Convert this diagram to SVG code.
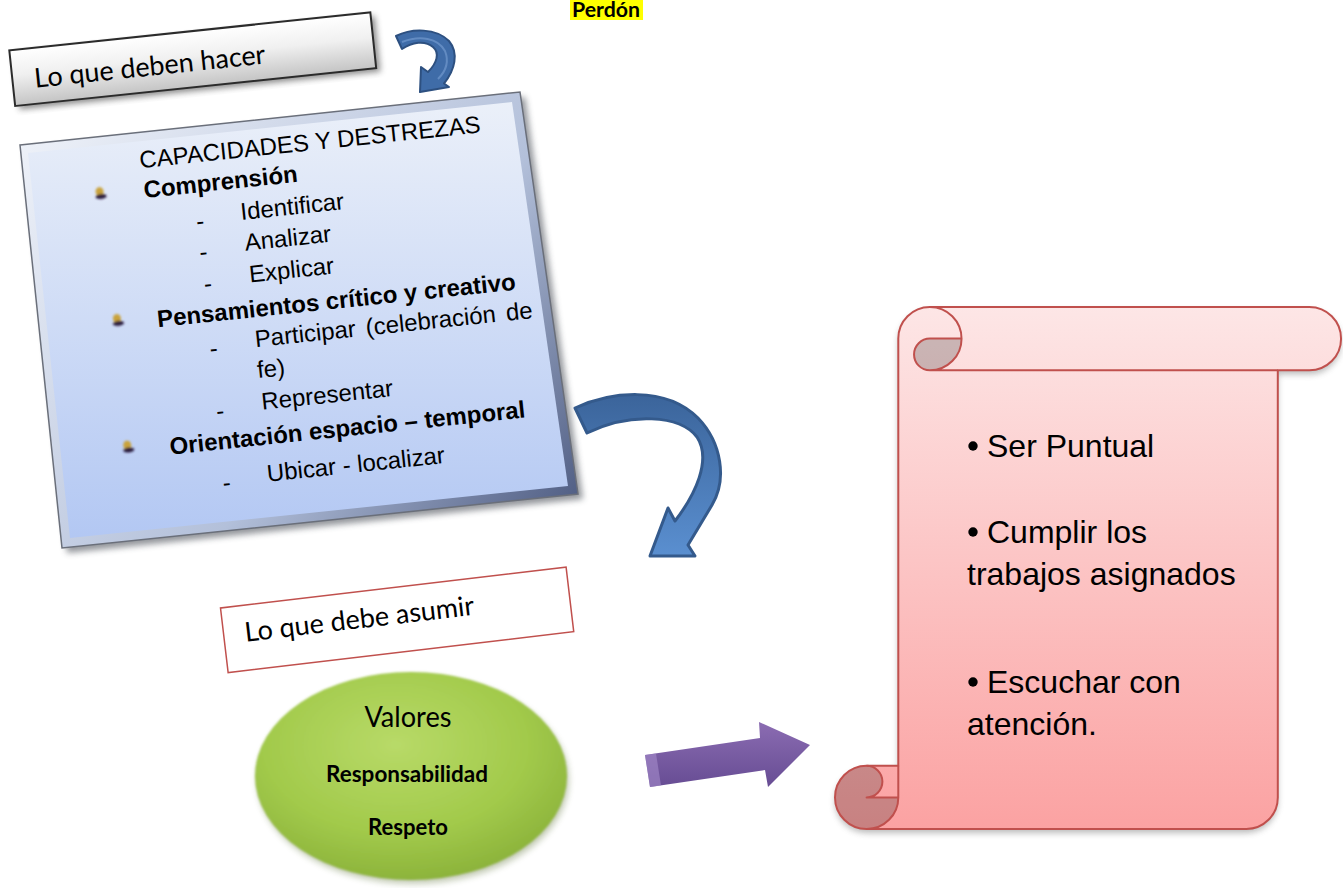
<svg xmlns="http://www.w3.org/2000/svg" width="1343" height="888" viewBox="0 0 1343 888">
<defs>
<style>
.arial{font-family:"Liberation Sans",Arial,sans-serif;fill:#000}
.cal{font-family:Lato,"Liberation Sans",sans-serif;fill:#000}
.b{font-weight:bold}
.t24{font-size:24px}
.scr{font-family:"Liberation Sans",Arial,sans-serif;font-size:32px;fill:#000}
.scrollLine{fill:none;stroke:#c0504d;stroke-width:2;stroke-linejoin:round}
</style>
<linearGradient id="gBoxIn" gradientUnits="userSpaceOnUse" x1="0" y1="100" x2="0" y2="545">
<stop offset="0" stop-color="#ebf0f9"/><stop offset="1" stop-color="#b2c7f3"/></linearGradient>
<linearGradient id="gBoxEdge" gradientUnits="userSpaceOnUse" x1="20" y1="95" x2="578" y2="548">
<stop offset="0" stop-color="#f2f5fb"/><stop offset="0.6" stop-color="#b3c0da"/><stop offset="1" stop-color="#45537a"/></linearGradient>
<linearGradient id="gGray" x1="0" y1="0" x2="0" y2="1">
<stop offset="0" stop-color="#ffffff"/><stop offset="0.45" stop-color="#f0f0f0"/><stop offset="1" stop-color="#c4c4c4"/></linearGradient>
<linearGradient id="gBlueArrow" gradientUnits="userSpaceOnUse" x1="0" y1="390" x2="0" y2="556">
<stop offset="0" stop-color="#3a6399"/><stop offset="1" stop-color="#5a8fd0"/></linearGradient>
<linearGradient id="gPurple" gradientUnits="userSpaceOnUse" x1="0" y1="722" x2="0" y2="790">
<stop offset="0" stop-color="#8b6cb2"/><stop offset="1" stop-color="#654b92"/></linearGradient>
<linearGradient id="gScroll" gradientUnits="userSpaceOnUse" x1="0" y1="307" x2="0" y2="829">
<stop offset="0" stop-color="#fde6e6"/><stop offset="0.5" stop-color="#fcc4c4"/><stop offset="1" stop-color="#fba2a2"/></linearGradient>
<radialGradient id="gGreen" cx="0.45" cy="0.35" r="0.7">
<stop offset="0" stop-color="#b8da68"/><stop offset="0.6" stop-color="#a2ca4b"/><stop offset="1" stop-color="#88af38"/></radialGradient>
<filter id="fShadow" x="-10%" y="-10%" width="120%" height="120%"><feGaussianBlur stdDeviation="3"/></filter>
<filter id="fSoft" x="-10%" y="-10%" width="120%" height="120%"><feGaussianBlur stdDeviation="1.2"/></filter>
<filter id="fPin" x="-50%" y="-50%" width="200%" height="200%"><feGaussianBlur stdDeviation="0.9"/></filter>
</defs>

<rect width="1343" height="888" fill="#ffffff"/>

<!-- Perdón -->
<g id="node-perdon">
<rect x="570" y="0" width="73" height="20" fill="#ffff00"/>
<text class="cal b" x="572" y="17" font-size="20" textLength="68" lengthAdjust="spacingAndGlyphs">Perdón</text>
</g>

<!-- Lo que deben hacer -->
<g id="node-hacer" transform="rotate(-6)">
<rect x="8" y="55" width="363" height="56" fill="#333" opacity="0.55" filter="url(#fShadow)"/>
<rect x="4" y="51" width="363" height="56" fill="url(#gGray)" stroke="#2b2b2b" stroke-width="2"/>
<text class="cal" x="26" y="91" font-size="27" textLength="232" lengthAdjust="spacingAndGlyphs">Lo que deben hacer</text>
</g>

<!-- Capacidades y destrezas -->
<g id="node-capacidades">
<polygon points="25,150 525,97 583,499 67,553" fill="#3a3f4a" opacity="0.55" filter="url(#fShadow)"/>
<polygon points="20,145 520,92 578,494 62,548" fill="url(#gBoxEdge)" stroke="#6a6f7a" stroke-width="1.5"/>
<polygon points="28,153 512,102 568,486 70,538" fill="url(#gBoxIn)"/>
<g transform="rotate(-6)">
<g filter="url(#fPin)">
<ellipse cx="79" cy="201" rx="4" ry="4.5" fill="#c9a23a"/><ellipse cx="80" cy="206" rx="5.5" ry="2.5" fill="#2a1d3c"/>
<ellipse cx="83" cy="329" rx="4" ry="4.5" fill="#c9a23a"/><ellipse cx="84" cy="334" rx="5.5" ry="2.5" fill="#2a1d3c"/>
<ellipse cx="80" cy="456" rx="4" ry="4.5" fill="#c9a23a"/><ellipse cx="81" cy="461" rx="5.5" ry="2.5" fill="#2a1d3c"/>
</g>
<g class="arial t24">
<text x="122" y="182">CAPACIDADES Y DESTREZAS</text>
<text class="b" x="123" y="212">Comprensión</text>
<text x="172" y="249">-</text><text x="217" y="244">Identificar</text>
<text x="172" y="280">-</text><text x="218" y="275">Analizar</text>
<text x="173" y="312">-</text><text x="219" y="307">Explicar</text>
<text class="b" x="123" y="342">Pensamientos crítico y creativo</text>
<text x="172" y="377">-</text><text x="218" y="372" word-spacing="3.5">Participar (celebración de</text>
<text x="217" y="403">fe)</text>
<text x="172" y="440">-</text><text x="218" y="435">Representar</text>
<text class="b" x="122" y="470">Orientación espacio – temporal</text>
<text x="171" y="512">-</text><text x="216" y="507">Ubicar - localizar</text>
</g>
</g>
</g>

<!-- Lo que debe asumir -->
<g id="node-asumir" transform="rotate(-6.75 220.5 608)">
<rect x="220.5" y="608" width="348" height="65" fill="#ffffff" stroke="#c0504d" stroke-width="1.5"/>
<text class="cal" x="241.5" y="644.5" font-size="27" textLength="231" lengthAdjust="spacingAndGlyphs">Lo que debe asumir</text>
</g>

<!-- Valores -->
<g id="node-valores">
<ellipse cx="413" cy="780" rx="156" ry="104" fill="#556b2f" opacity="0.35" filter="url(#fShadow)"/>
<ellipse cx="411" cy="776" rx="156" ry="104" fill="url(#gGreen)" filter="url(#fSoft)"/>
<text class="cal" x="408" y="727" font-size="28" text-anchor="middle" textLength="87" lengthAdjust="spacingAndGlyphs">Valores</text>
<text class="cal b" x="407" y="782" font-size="23" text-anchor="middle" textLength="162" lengthAdjust="spacingAndGlyphs">Responsabilidad</text>
<text class="cal b" x="408" y="835" font-size="23" text-anchor="middle" textLength="80" lengthAdjust="spacingAndGlyphs">Respeto</text>
</g>

<!-- Scroll -->
<g id="node-scroll">
<path d="M866.6,833 A31.6,31.6 0 0 1 866.6,769.8 L898.3,769.8 L898.3,342.6 A31.6,31.6 0 0 1 929.9,311 L1309.4,311 A31.6,31.6 0 0 1 1309.4,374.3 L1277.8,374.3 L1277.8,801.4 A31.6,31.6 0 0 1 1246.1,833 Z" fill="#555" opacity="0.4" filter="url(#fShadow)"/>
<path d="M866.6,829 A31.6,31.6 0 0 1 866.6,765.8 L898.3,765.8 L898.3,338.6 A31.6,31.6 0 0 1 929.9,307 L1309.4,307 A31.6,31.6 0 0 1 1309.4,370.3 L1277.8,370.3 L1277.8,797.4 A31.6,31.6 0 0 1 1246.1,829 Z" fill="url(#gScroll)"/>
<path d="M961.5,338.6 A31.6,31.6 0 0 1 929.9,370.3 A15.8,15.8 0 0 1 929.9,338.6 Z" fill="#000" opacity="0.2"/>
<path d="M898.3,797.4 A31.6,31.6 0 1 1 866.6,765.8 A15.8,15.8 0 0 1 866.6,797.4 Z" fill="#000" opacity="0.2"/>
<path class="scrollLine" d="M866.6,829 A31.6,31.6 0 0 1 866.6,765.8 L898.3,765.8 L898.3,338.6 A31.6,31.6 0 0 1 929.9,307 L1309.4,307 A31.6,31.6 0 0 1 1309.4,370.3 L1277.8,370.3 L1277.8,797.4 A31.6,31.6 0 0 1 1246.1,829 Z"/>
<path class="scrollLine" d="M929.9,307 A31.6,31.6 0 0 1 929.9,370.3 A15.8,15.8 0 0 1 929.9,338.6 L961.5,338.6 M929.9,370.3 L1277.8,370.3"/>
<path class="scrollLine" d="M866.6,765.8 A15.8,15.8 0 0 1 866.6,797.4 L898.3,797.4 M898.3,765.8 L898.3,797.4 A31.6,31.6 0 0 1 866.6,829"/>
<circle cx="973" cy="446" r="4.7" fill="#000"/>
<text class="scr" x="987" y="457">Ser Puntual</text>
<circle cx="973" cy="532" r="4.7" fill="#000"/>
<text class="scr" x="987" y="543">Cumplir los</text>
<text class="scr" x="967" y="585">trabajos asignados</text>
<circle cx="973" cy="682" r="4.7" fill="#000"/>
<text class="scr" x="987" y="693">Escuchar con</text>
<text class="scr" x="967" y="735">atención.</text>
</g>

<!-- Connectors -->
<g id="connectors">
<g id="arrow-top">
<path d="M396,36 C412,28 436,28 449,41 C459,53 455,70 444,83.5 L449,87 L420,92 L421,67 L428,72 C437,63 440,53 433,47 C425,40 412,42 402,49 Z" fill="#3f6ca8" stroke="#2d5080" stroke-width="2" stroke-linejoin="round"/>
<path d="M402,42 C420,35 438,38 445,51 C449,61 446,71 438,79" fill="none" stroke="#7aa0d4" stroke-width="2" opacity="0.6"/>
</g>
<g id="arrow-big">
<path d="M575,408 C610,392 665,385 698,418 C722,443 727,480 712,505 L688,545 L695,556 L650,556 L668,508 L675,521 C695,495 712,460 697,437 C680,415 630,412 587,433 Z" fill="url(#gBlueArrow)" stroke="#345a8c" stroke-width="3" stroke-linejoin="round"/>
</g>
<g id="arrow-purple">
<polygon points="645,755 760,738 759,722 810,745 768,787 765,770 650,787" fill="url(#gPurple)"/>
<polygon points="645,755 656,753.5 661,785.5 650,787" fill="#a58ccb" opacity="0.6"/>
</g>
</g>
</svg>
